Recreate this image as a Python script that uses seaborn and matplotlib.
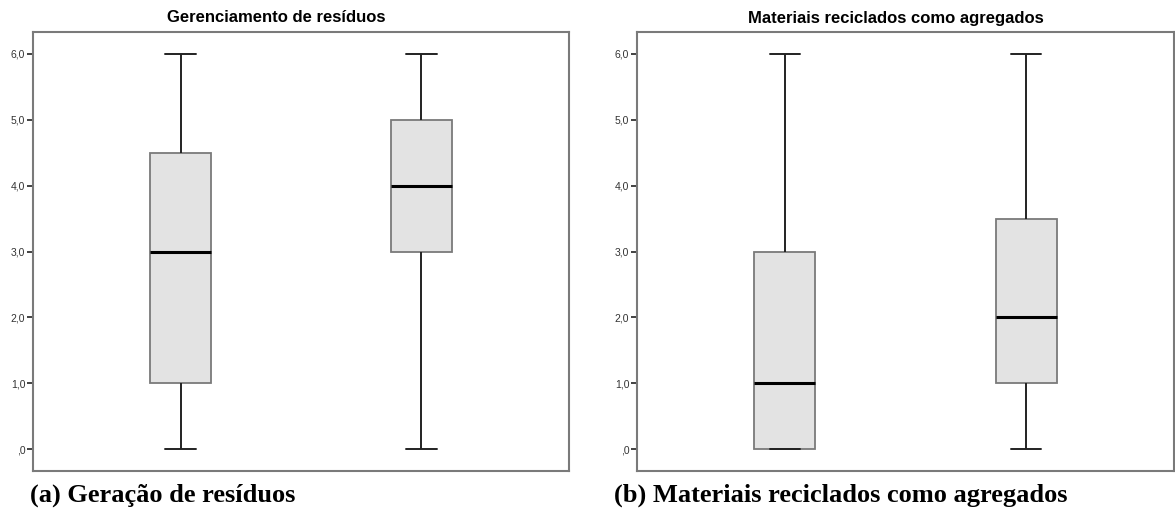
import numpy as np
import pandas as pd
import matplotlib
matplotlib.use("Agg")
import matplotlib.pyplot as plt
import seaborn as sns

# five-number summaries (min, q1, median, q3, max)
grupos = ["1", "2"]
geracao_g1 = [0, 1, 3, 4.5, 6]
geracao_g2 = [0, 3, 4, 5, 6]
materiais_g1 = [0, 0, 1, 3, 6]
materiais_g2 = [0, 1, 2, 3.5, 6]

titulos = ["Gerenciamento de resíduos", "Materiais reciclados como agregados"]
legendas = ["(a) Geração de resíduos", "(b) Materiais reciclados como agregados"]
yticks = [0, 1, 2, 3, 4, 5, 6]
yticklabels = [",0", "1,0", "2,0", "3,0", "4,0", "5,0", "6,0"]

sns.set_style("white")
plt.rcParams['font.family'] = ['Liberation Sans', 'DejaVu Sans']
plt.rcParams['text.color'] = 'black'

df_a = pd.DataFrame({"grupo": [grupos[0]] * 5 + [grupos[1]] * 5,
                     "valor": geracao_g1 + geracao_g2})
df_b = pd.DataFrame({"grupo": [grupos[0]] * 5 + [grupos[1]] * 5,
                     "valor": materiais_g1 + materiais_g2})

fig = plt.figure(figsize=(11.75, 5.08), dpi=100)
ax1 = fig.add_axes([33 / 1175, 1 - 471 / 508, (569 - 33) / 1175, (471 - 32) / 508])
ax2 = fig.add_axes([637 / 1175, 1 - 471 / 508, (1174 - 637) / 1175, (471 - 32) / 508])

for ax, df in [(ax1, df_a), (ax2, df_b)]:
    sns.boxplot(data=df, x="grupo", y="valor", ax=ax, color="#e3e3e3",
                saturation=1, width=0.253, whis=(0, 100), fliersize=0,
                linecolor="#222222", linewidth=1.3,
                boxprops=dict(edgecolor="#7a7a7a", linewidth=1.3),
                medianprops=dict(color="black", linewidth=2.2),
                whiskerprops=dict(color="#222222", linewidth=1.4),
                capprops=dict(color="#222222", linewidth=1.4))
    ax.set_xlim(-0.613, 1.613)
    ax.set_ylim(-0.33, 6.33)
    ax.set_yticks(yticks)
    ax.set_yticklabels(yticklabels, fontsize=7.5, color="#333333")
    ax.set_xticks([])
    ax.set_xlabel("")
    ax.set_ylabel("")
    ax.tick_params(axis="y", direction="out", length=4.5, width=1.2,
                   color="#222222", pad=1, left=True)
    for s in ax.spines.values():
        s.set_visible(True)
        s.set_color("#7a7a7a")
        s.set_linewidth(1.5)

fig.text(276 / 1175, 1 - 18 / 508, titulos[0], ha="center", va="center",
         fontsize=12, fontweight="bold", color="black")
fig.text(896 / 1175, 1 - 18 / 508, titulos[1], ha="center", va="center",
         fontsize=12, fontweight="bold", color="black")

fig.text(30 / 1175, 1 - 502 / 508, legendas[0], ha="left", va="baseline",
         fontsize=19, fontweight="bold", color="black",
         family=["Liberation Serif", "DejaVu Serif"])
fig.text(614 / 1175, 1 - 502 / 508, legendas[1], ha="left", va="baseline",
         fontsize=19, fontweight="bold", color="black",
         family=["Liberation Serif", "DejaVu Serif"])

fig.savefig("out.png", dpi=100)
